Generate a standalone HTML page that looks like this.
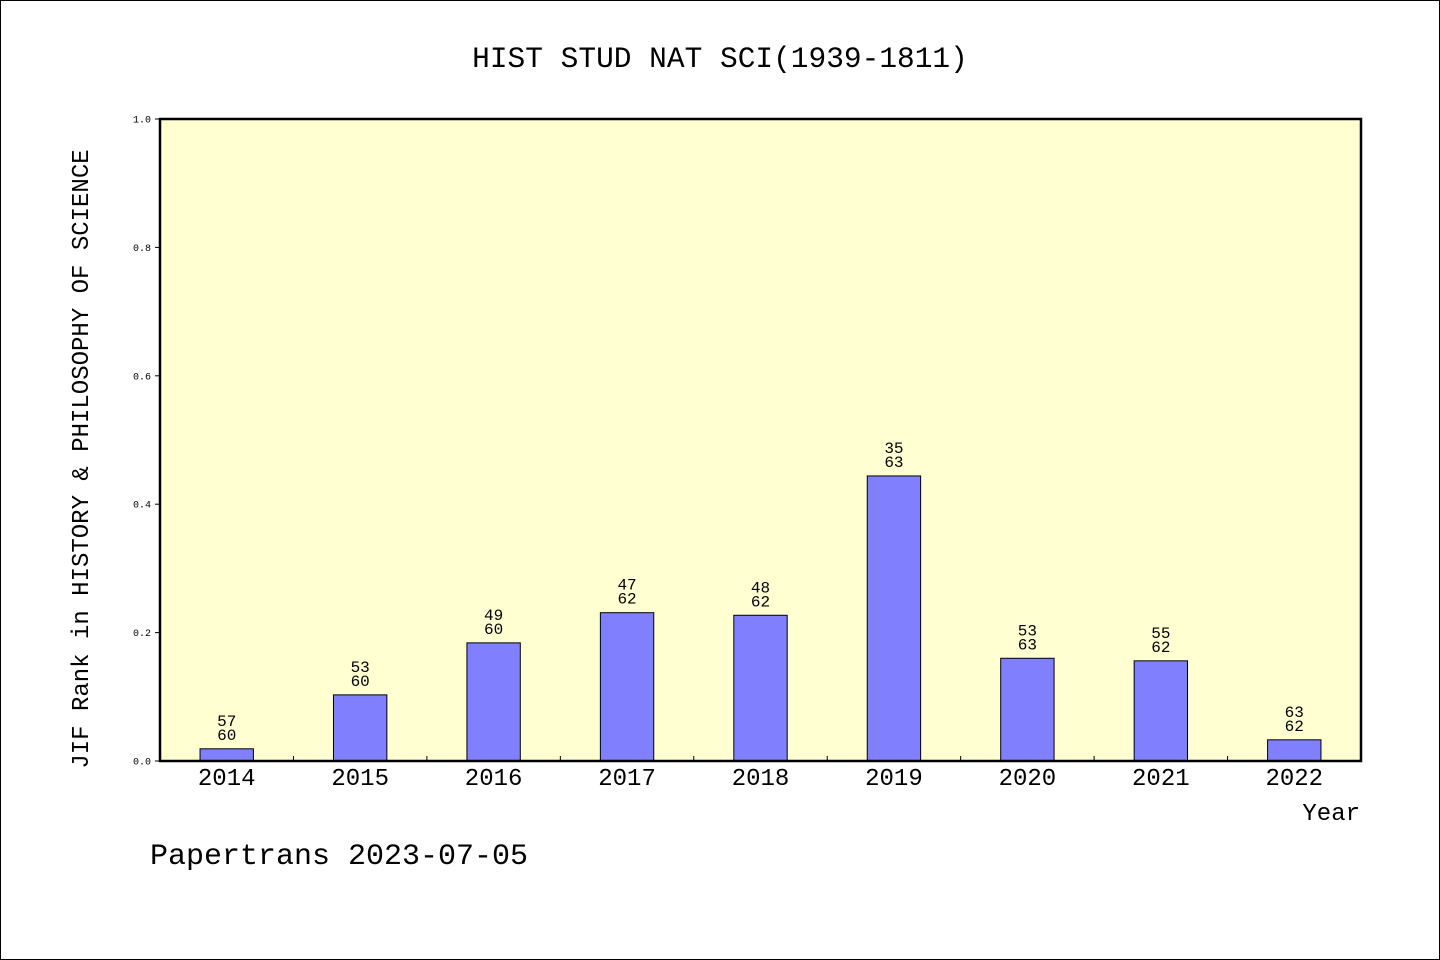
<!DOCTYPE html>
<html><head><meta charset="utf-8"><style>
body{margin:0;background:#fff}
svg{display:block;font-family:"Liberation Mono","DejaVu Sans Mono",monospace}
</style></head><body>
<svg id="c" width="1440" height="960" xmlns="http://www.w3.org/2000/svg">
<rect x="0.5" y="0.5" width="1439" height="959" fill="#fff" stroke="#000"/>
<text x="720" y="67" font-size="29.5" text-anchor="middle">HIST STUD NAT SCI(1939-1811)</text>
<rect x="160" y="119" width="1201" height="642" fill="#ffffd2"/>
<g id="bars"></g>
<rect x="160" y="119" width="1201" height="642" fill="none" stroke="#000" stroke-width="2.5"/>
<g id="axes"></g>
<text x="1360" y="820" font-size="24" text-anchor="end">Year</text>
<text transform="translate(88,459) rotate(-90)" font-size="24" text-anchor="middle">JIF Rank in HISTORY &amp; PHILOSOPHY OF SCIENCE</text>
<text x="150" y="864" font-size="30">Papertrans 2023-07-05</text>
</svg>
<script>
const categories=["2014","2015","2016","2017","2018","2019","2020","2021","2022"];
const values=[0.019,0.103,0.184,0.231,0.227,0.444,0.160,0.156,0.033];
const ranks=["57","53","49","47","48","35","53","55","63"];
const totals=["60","60","60","62","62","63","63","62","62"];
const yTicks=["0.0","0.2","0.4","0.6","0.8","1.0"];
const NS="http://www.w3.org/2000/svg";
const L=160,R=1361,T=119,B=761;
const y=v=>B-(B-T)*v;
const bw=(R-L)/categories.length;
const x=i=>L+bw*(i+0.5);
function mk(tag,attrs,parent){const e=document.createElementNS(NS,tag);for(const k in attrs)e.setAttribute(k,attrs[k]);parent.appendChild(e);return e;}
const gb=document.getElementById('bars'),ga=document.getElementById('axes');
categories.forEach((c,i)=>{
  const w=bw*0.4;
  const r=mk('rect',{x:x(i)-w/2,y:y(values[i]),width:w,height:B-y(values[i]),fill:'#8080ff',stroke:'#000','stroke-width':1},gb);
  
  
  const t1=mk('text',{x:x(i),y:y(values[i])-23,'font-size':16,'text-anchor':'middle'},gb);t1.textContent=ranks[i];
  
  
  const t2=mk('text',{x:x(i),y:y(values[i])-9,'font-size':16,'text-anchor':'middle'},gb);t2.textContent=totals[i];
  
  
  const xl=mk('text',{x:x(i),y:785,'font-size':24,'text-anchor':'middle'},ga);xl.textContent=c;
  
  
  if(i>0){const tk=mk('line',{x1:L+bw*i,x2:L+bw*i,y1:B,y2:B-5,stroke:'#000'},ga);
  
  }
});
yTicks.forEach(s=>{
  const v=parseFloat(s);
  const ln=mk('line',{x1:L-5,x2:L,y1:y(v),y2:y(v),stroke:'#000'},ga);
  
  
  const t=mk('text',{x:151,y:y(v)+3.5,'font-size':10,'text-anchor':'end'},ga);t.textContent=s;
  
  
});
</script>
</body></html>
